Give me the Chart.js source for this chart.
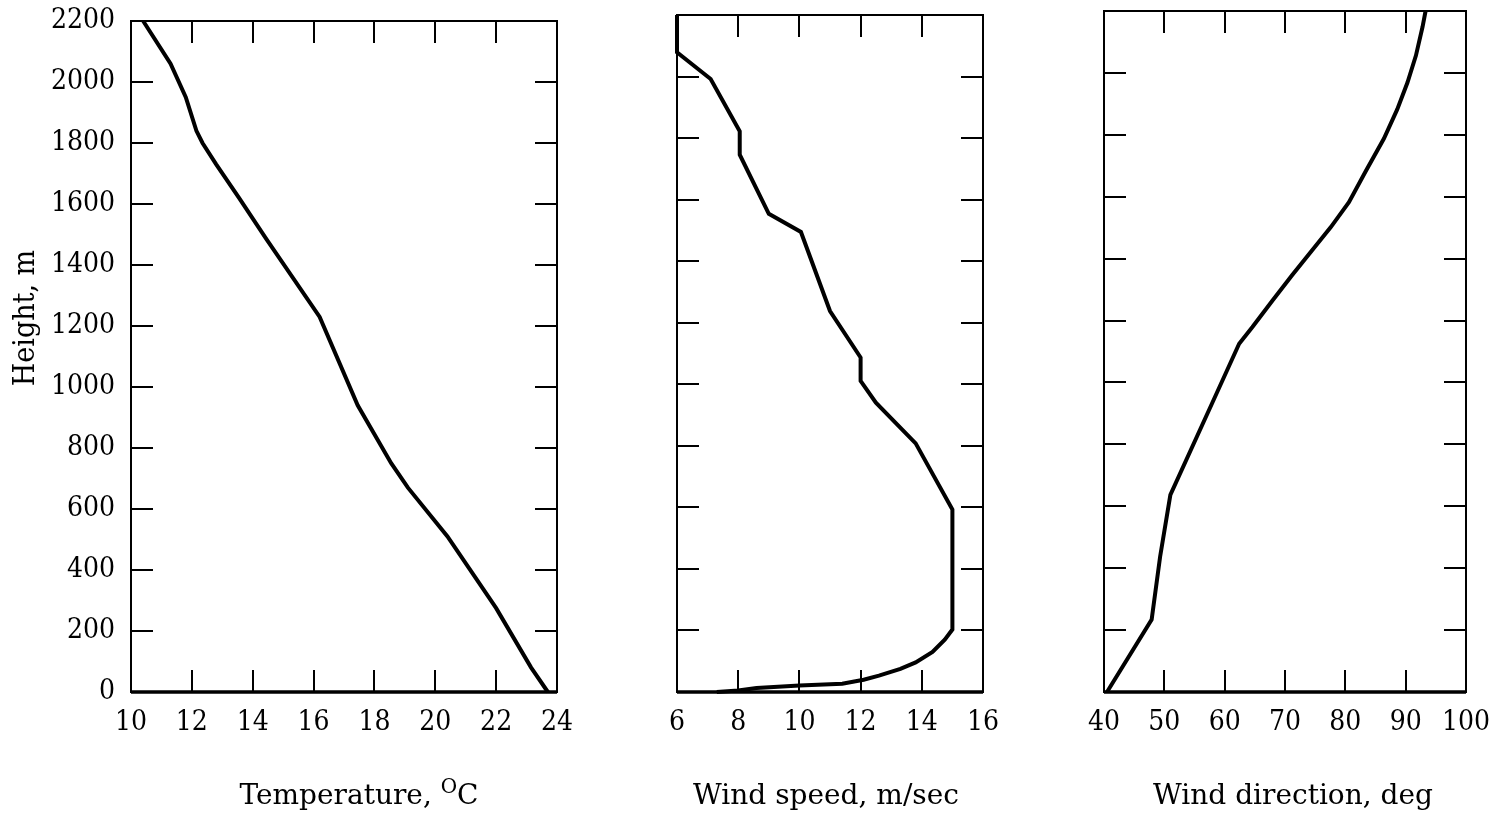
<!DOCTYPE html>
<html>
<head>
<meta charset="utf-8">
<script src="https://cdn.jsdelivr.net/npm/chart.js@4.4.1/dist/chart.umd.min.js"></script>
<style>
  html, body { margin: 0; padding: 0; background: #fff; }
  #wrap { position: relative; width: 1505px; height: 822px; overflow: hidden; }
  .panel { position: absolute; top: 0; height: 822px; }
</style>
</head>
<body>
<div id="wrap">
  <div class="panel" style="left:0;width:590px"><canvas id="tempChart" width="590" height="822"></canvas></div>
  <div class="panel" style="left:600px;width:420px"><canvas id="speedChart" width="420" height="822"></canvas></div>
  <div class="panel" style="left:1040px;width:465px"><canvas id="dirChart" width="465" height="822"></canvas></div>
</div>
<script>
// profiles, height in m
const tempHeights = [0, 80, 275, 510, 670, 750, 940, 1230, 1485, 1620, 1730, 1800, 1840, 1950, 2060, 2200];
const tempValues  = [23.7, 23.15, 22.0, 20.4, 19.1, 18.55, 17.45, 16.2, 14.45, 13.55, 12.8, 12.35, 12.15, 11.8, 11.3, 10.4];

const speedHeights = [0, 5, 13, 21, 27, 40, 53, 75, 96, 130, 170, 203, 593, 808, 940, 1011, 1087, 1238, 1495, 1554, 1746, 1822, 1992, 2079, 2200];
const speedValues  = [7.3, 8.0, 8.6, 10.0, 11.4, 12.1, 12.6, 13.3, 13.8, 14.35, 14.75, 15.0, 15.0, 13.8, 12.5, 12.0, 12.0, 11.0, 10.05, 9.0, 8.05, 8.05, 7.1, 6.0, 6.0];

const dirHeights = [0, 234, 437, 637, 932, 1125, 1179, 1264, 1347, 1427, 1502, 1582, 1683, 1788, 1882, 1969, 2056, 2149, 2200];
const dirValues  = [40.5, 47.9, 49.3, 51.0, 57.9, 62.4, 64.6, 67.9, 71.2, 74.5, 77.6, 80.6, 83.4, 86.4, 88.6, 90.3, 91.7, 92.8, 93.3];

const heightTicks = [0, 2200, 200];   // min, max, step
const tempTicks   = [10, 24, 2];
const speedTicks  = [6, 16, 2];
const dirTicks    = [40, 100, 10];

const TICK_FONT = '"DejaVu Serif Condensed", "DejaVu Serif", serif';
const TITLE_FONT = '"DejaVu Serif", serif';

// box round the plot and short ticks pointing inward on all four sides
const frameTicks = {
  id: 'frameTicks',
  afterDraw(chart) {
    const { ctx, chartArea: a, scales: { x, y } } = chart;
    const len = 22;
    ctx.save();
    ctx.strokeStyle = '#000';
    ctx.lineWidth = 2;
    x.ticks.forEach(t => {
      if (t.value <= x.min || t.value >= x.max) return;
      const px = Math.round(x.getPixelForValue(t.value));
      ctx.beginPath();
      ctx.moveTo(px, a.bottom); ctx.lineTo(px, a.bottom - len);
      ctx.moveTo(px, a.top); ctx.lineTo(px, a.top + len);
      ctx.stroke();
    });
    y.ticks.forEach(t => {
      if (t.value <= y.min || t.value >= y.max) return;
      const py = Math.round(y.getPixelForValue(t.value));
      ctx.beginPath();
      ctx.moveTo(a.left, py); ctx.lineTo(a.left + len, py);
      ctx.moveTo(a.right, py); ctx.lineTo(a.right - len, py);
      ctx.stroke();
    });
    ctx.strokeRect(a.left, a.top, a.width, a.height);
    ctx.lineWidth = 3.5;
    ctx.beginPath();
    ctx.moveTo(a.left, a.bottom); ctx.lineTo(a.right, a.bottom);
    ctx.stroke();
    ctx.restore();
  }
};

// axis titles: x title under each panel (with superscript parts), "Height, m" on the left one
const axisTitles = {
  id: 'axisTitles',
  afterDraw(chart, args, opts) {
    const { ctx, chartArea: a } = chart;
    ctx.save();
    ctx.fillStyle = '#000';
    ctx.textBaseline = 'alphabetic';
    const size = 28, supSize = 20;
    let w = 0;
    opts.parts.forEach(p => {
      ctx.font = (p.sup ? supSize : size) + 'px ' + TITLE_FONT;
      w += ctx.measureText(p.text).width;
    });
    let x = (a.left + a.right) / 2 + opts.dx - w / 2;
    const base = 804;
    opts.parts.forEach(p => {
      ctx.font = (p.sup ? supSize : size) + 'px ' + TITLE_FONT;
      ctx.fillText(p.text, x, p.sup ? base - 11 : base);
      x += ctx.measureText(p.text).width;
    });
    if (opts.yTitle) {
      ctx.translate(26, 318);
      ctx.rotate(-Math.PI / 2);
      ctx.font = '30px ' + TICK_FONT;
      ctx.textAlign = 'center';
      ctx.textBaseline = 'middle';
      ctx.fillText(opts.yTitle, 0, 0);
    }
    ctx.restore();
  }
};

function makePoints(xs, hs) {
  return hs.map((h, i) => ({ x: xs[i], y: h }));
}

function makeChart(id, xs, hs, xTicks, titleParts, opt) {
  return new Chart(document.getElementById(id), {
    type: 'line',
    data: {
      datasets: [{
        data: makePoints(xs, hs),
        borderColor: '#000',
        borderWidth: 4,
        pointRadius: 0,
        tension: 0,
        fill: false,
        clip: false,
      }],
    },
    options: {
      responsive: false,
      animation: false,
      layout: { padding: { top: opt.top, right: opt.right, left: 0, bottom: 0 } },
      plugins: {
        legend: { display: false },
        tooltip: { enabled: false },
        axisTitles: { parts: titleParts, dx: opt.dx, yTitle: opt.yTitle },
      },
      scales: {
        x: {
          type: 'linear',
          min: xTicks[0], max: xTicks[1],
          grid: { display: false, drawTicks: false },
          border: { display: false },
          ticks: { stepSize: xTicks[2], padding: 14, color: '#000', font: { family: TICK_FONT, size: 28 }, callback: v => String(v) },
          afterFit(scale) { scale.height = 130; scale.paddingLeft = 0; scale.paddingRight = 0; },
        },
        y: {
          type: 'linear',
          min: heightTicks[0], max: heightTicks[1],
          grid: { display: false, drawTicks: false },
          border: { display: false },
          ticks: { display: opt.yLabels, stepSize: heightTicks[2], padding: 16, color: '#000', font: { family: TICK_FONT, size: 28 }, callback: v => String(v) },
          afterFit(scale) { scale.width = opt.left; scale.paddingTop = 0; scale.paddingBottom = 0; },
        },
      },
    },
    plugins: [frameTicks, axisTitles],
  });
}

makeChart('tempChart', tempValues, tempHeights, tempTicks,
  [{ text: 'Temperature, ' }, { text: 'O', sup: true }, { text: 'C' }],
  { top: 21, right: 33, left: 131, yLabels: true, yTitle: 'Height, m', dx: 15 });
makeChart('speedChart', speedValues, speedHeights, speedTicks,
  [{ text: 'Wind speed, m/sec' }],
  { top: 15, right: 37, left: 77, yLabels: false, dx: -4 });
makeChart('dirChart', dirValues, dirHeights, dirTicks,
  [{ text: 'Wind direction, deg' }],
  { top: 11, right: 39, left: 64, yLabels: false, dx: 8 });
</script>
</body>
</html>
